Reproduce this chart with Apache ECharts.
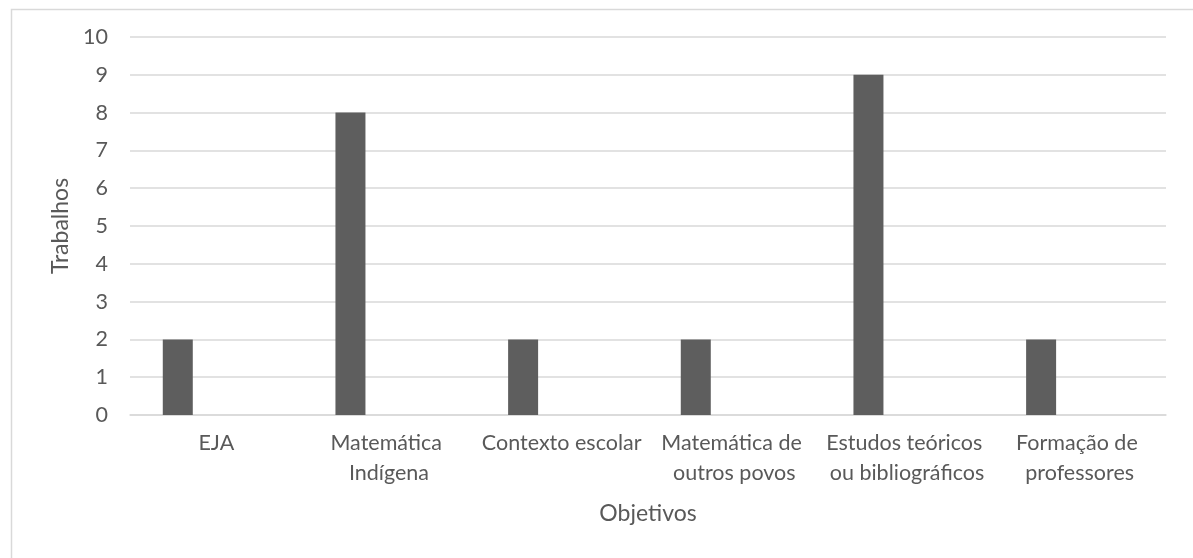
<!DOCTYPE html>
<html>
<head>
<meta charset="utf-8">
<script src="https://cdn.jsdelivr.net/npm/echarts@6/dist/echarts.min.js"></script>
<style>html,body{margin:0;padding:0;background:#fff}#c{width:1193px;height:558px}</style>
</head>
<body>
<div id="c"></div>
<script>
const categories = ["EJA", "Matemática Indígena", "Contexto escolar", "Matemática de outros povos", "Estudos teóricos ou bibliográficos", "Formação de professores"];
const trabalhos = [2, 8, 2, 2, 9, 2];
const emptySeries = [null, null, null, null, null, null];
const yTicks = { min: 0, max: 10, interval: 1 };

const FONT = 'Lato';
const TXT = '#595959';
const chart = echarts.init(document.getElementById('c'), null, { renderer: 'canvas' });
chart.setOption({
  animation: false,
  backgroundColor: '#fff',
  graphic: [{
    type: 'rect', left: 9, top: 7, silent: true,
    shape: { x: 0, y: 0, width: 1300, height: 700 },
    style: { fill: 'none', stroke: '#d9d9d9', lineWidth: 1.5 }
  }],
  grid: { left: 130, right: 27, top: 37, bottom: 143, containLabel: false },
  xAxis: {
    type: 'category', data: categories,
    name: 'Objetivos', nameLocation: 'middle', nameGap: 87,
    nameTextStyle: { fontFamily: FONT, fontSize: 23, color: TXT },
    axisLine: { lineStyle: { color: '#d9d9d9', width: 1.5 } },
    axisTick: { show: false },
    axisLabel: { interval: 0, fontFamily: FONT, fontSize: 21.5, color: TXT, margin: 13,
      lineHeight: 30, width: 172, overflow: 'break' }
  },
  yAxis: {
    type: 'value', min: yTicks.min, max: yTicks.max, interval: yTicks.interval,
    name: 'Trabalhos', nameLocation: 'middle', nameGap: 58, nameRotate: 90,
    nameTextStyle: { fontFamily: FONT, fontSize: 23, color: TXT },
    axisLine: { show: false }, axisTick: { show: false },
    axisLabel: { fontFamily: FONT, fontSize: 21.5, color: TXT, margin: 22 },
    splitLine: { lineStyle: { color: '#d9d9d9', width: 1.5 } }
  },
  series: [
    { type: 'bar', name: 'Trabalhos', data: trabalhos, barWidth: 30, barGap: '157%',
      itemStyle: { color: '#5e5e5e' } },
    { type: 'bar', name: '', data: emptySeries, barWidth: 30 }
  ]
});
</script>
</body>
</html>
